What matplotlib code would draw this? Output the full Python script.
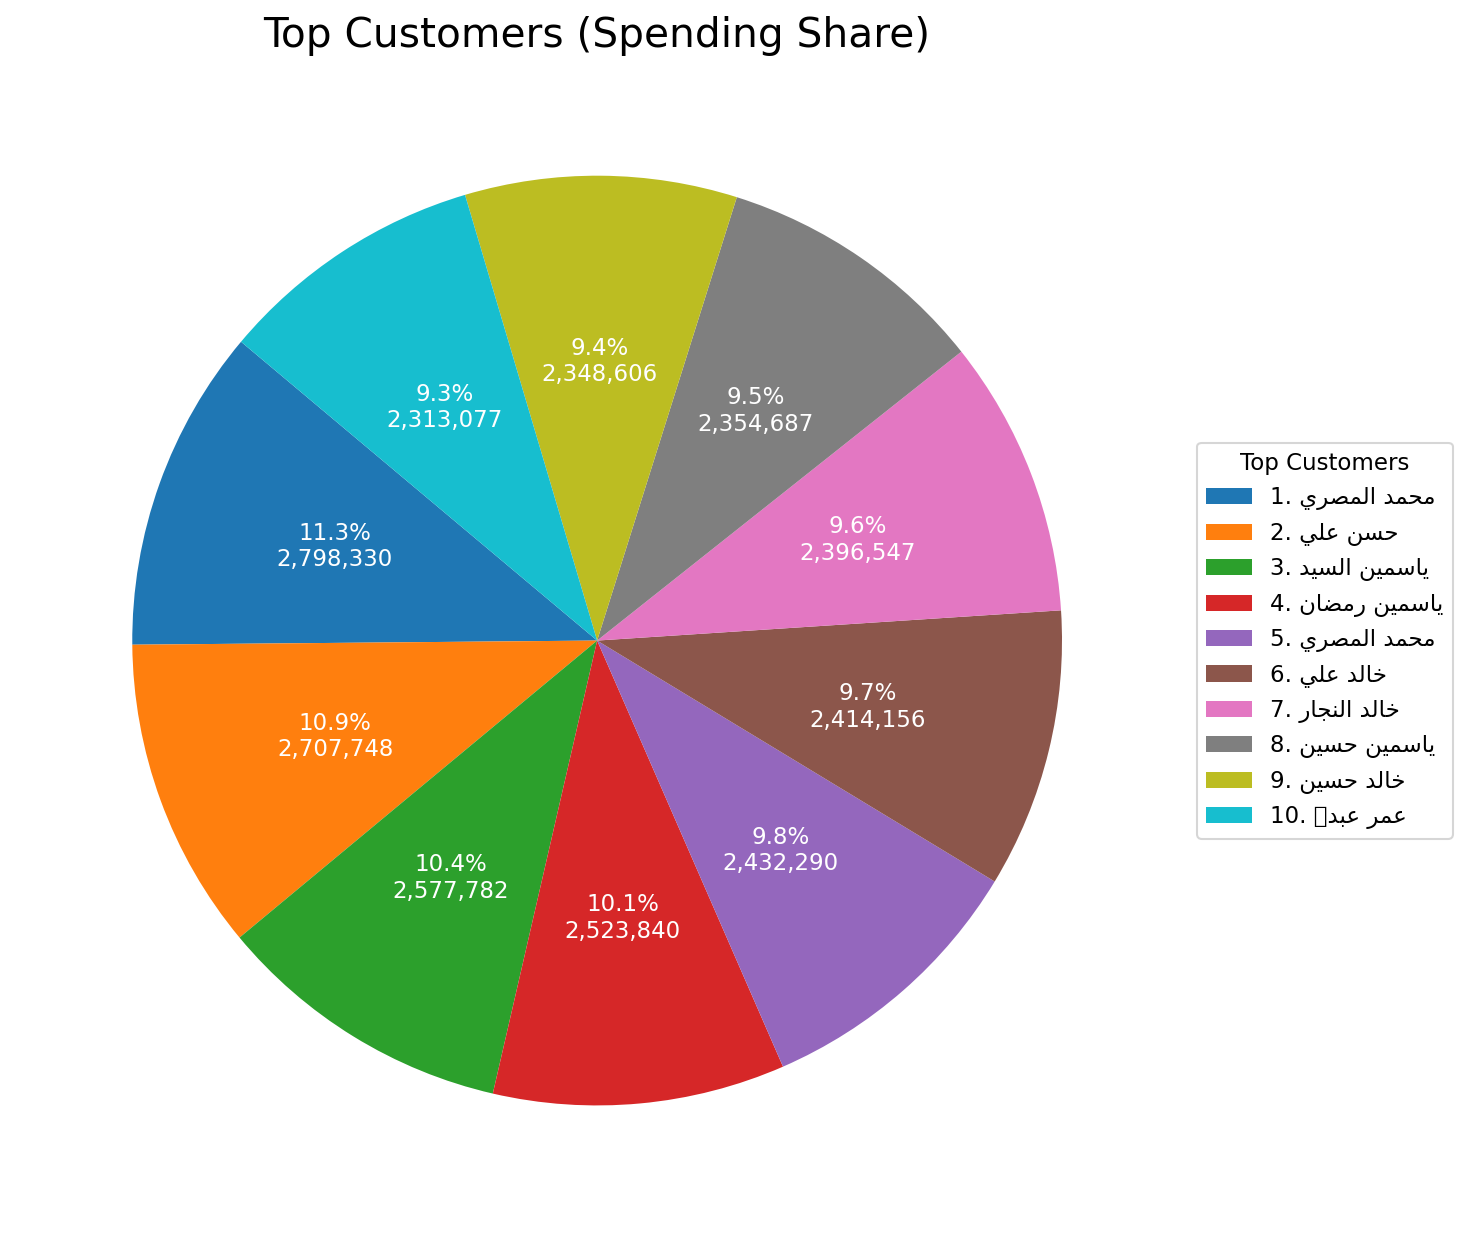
import matplotlib
matplotlib.use("Agg")
import matplotlib.pyplot as plt

names = ["محمد المصري", "حسن علي", "ياسمين السيد", "ياسمين رمضان", "محمد المصري",
         "خالد علي", "خالد النجار", "ياسمين حسين", "خالد حسين", "عمر عبد\ufdf2"]
values = [2798330, 2707748, 2577782, 2523840, 2432290,
          2414156, 2396547, 2354687, 2348606, 2313077]

# presentation forms: isolated, final, initial, medial
FORMS = {
    "ا": ("\ufe8d", "\ufe8e"), "د": ("\ufea9", "\ufeaa"), "ر": ("\ufead", "\ufeae"),
    "و": ("\ufeed", "\ufeee"),
    "ج": ("\ufe9d", "\ufe9e", "\ufe9f", "\ufea0"), "ح": ("\ufea1", "\ufea2", "\ufea3", "\ufea4"),
    "خ": ("\ufea5", "\ufea6", "\ufea7", "\ufea8"), "س": ("\ufeb1", "\ufeb2", "\ufeb3", "\ufeb4"),
    "ص": ("\ufeb9", "\ufeba", "\ufebb", "\ufebc"), "ض": ("\ufebd", "\ufebe", "\ufebf", "\ufec0"),
    "ع": ("\ufec9", "\ufeca", "\ufecb", "\ufecc"), "ل": ("\ufedd", "\ufede", "\ufedf", "\ufee0"),
    "م": ("\ufee1", "\ufee2", "\ufee3", "\ufee4"), "ن": ("\ufee5", "\ufee6", "\ufee7", "\ufee8"),
    "ي": ("\ufef1", "\ufef2", "\ufef3", "\ufef4"), "ب": ("\ufe8f", "\ufe90", "\ufe91", "\ufe92"),
}


def shape(text):
    out = []
    for i, c in enumerate(text):
        if c not in FORMS:
            out.append(c)
            continue
        prev = text[i - 1] if i > 0 else ""
        nxt = text[i + 1] if i + 1 < len(text) else ""
        jp = prev in FORMS and len(FORMS[prev]) == 4
        jn = len(FORMS[c]) == 4 and (nxt in FORMS)
        f = FORMS[c]
        if jp and jn:
            out.append(f[3])
        elif jp:
            out.append(f[1])
        elif jn:
            out.append(f[2])
        else:
            out.append(f[0])
    return "".join(out)[::-1]


labels = [f"{i + 1}. {shape(n)}" for i, n in enumerate(names)]
total = sum(values)

fig = plt.figure(figsize=(1460 / 150, 1239 / 150), dpi=150)
ax = fig.add_axes([0.011, 0.014, 0.796, 0.938])
wedges, _, autotexts = ax.pie(
    values, startangle=140, counterclock=True,
    autopct=lambda p: f"{p:.1f}%\n{p * total / 100:,.0f}",
    pctdistance=0.6, textprops=dict(color="white", fontsize=11))
ax.set_aspect("equal")
fig.suptitle("Top Customers (Spending Share)", x=0.409, y=0.987, fontsize=19.5)
fig.legend(wedges, labels, title="Top Customers", loc="center left",
           bbox_to_anchor=(0.812, 0.483), fontsize=11, title_fontsize=11)
fig.savefig("out.png", dpi=150)
